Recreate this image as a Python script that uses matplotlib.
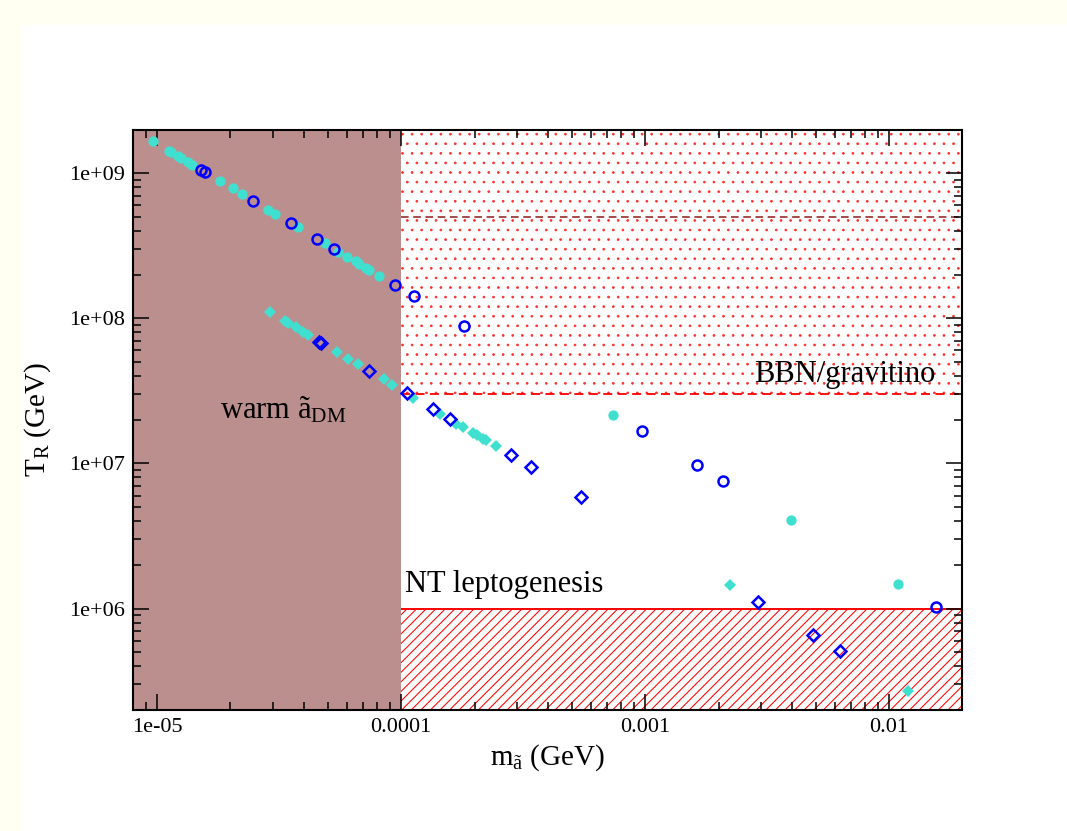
import matplotlib
matplotlib.use('Agg')
import matplotlib.pyplot as plt
from matplotlib.patches import Rectangle
from matplotlib.ticker import LogLocator, NullFormatter

# шрифты в стиле xmgrace (Times)
plt.rcParams['font.family'] = ['Liberation Serif', 'DejaVu Serif']
plt.rcParams['mathtext.fontset'] = 'custom'
plt.rcParams['mathtext.rm'] = 'Liberation Serif'
plt.rcParams['mathtext.it'] = 'Liberation Serif:italic'

# dpi подобран под плотность штриховки, k переводит "пиксели при 100 dpi" в пункты
DPI = 115
k = 100 / DPI

# данные: масса аксино (GeV) и температура перегрева T_R (GeV)
circ_fill_m = [9.6e-6, 1.12e-5, 1.14e-5, 1.22e-5, 1.25e-5, 1.34e-5, 1.39e-5,
               1.81e-5, 2.04e-5, 2.23e-5, 2.85e-5, 3.05e-5, 3.77e-5, 4.89e-5,
               5.54e-5, 5.99e-5, 6.54e-5, 6.75e-5, 7.21e-5, 7.41e-5, 8.15e-5,
               7.41e-4, 3.96e-3, 1.09e-2]
circ_fill_T = [1.66e9, 1.42e9, 1.40e9, 1.31e9, 1.28e9, 1.20e9, 1.14e9,
               8.81e8, 7.89e8, 7.17e8, 5.58e8, 5.22e8, 4.25e8, 3.28e8,
               2.86e8, 2.65e8, 2.47e8, 2.38e8, 2.22e8, 2.16e8, 1.96e8,
               2.17e7, 4.05e6, 1.48e6]

circ_open_m = [1.51e-5, 1.57e-5, 2.48e-5, 3.54e-5, 4.54e-5, 5.33e-5, 9.42e-5,
               1.135e-4, 1.81e-4, 9.68e-4, 1.63e-3, 2.09e-3, 1.56e-2]
circ_open_T = [1.05e9, 1.02e9, 6.44e8, 4.53e8, 3.53e8, 3.00e8, 1.69e8,
               1.42e8, 8.9e7, 1.66e7, 9.8e6, 7.6e6, 1.03e6]

diam_fill_m = [2.90e-5, 3.33e-5, 3.43e-5, 3.72e-5, 3.98e-5, 4.17e-5, 5.45e-5,
               6.08e-5, 6.65e-5, 8.55e-5, 9.17e-5, 1.12e-4, 1.45e-4, 1.68e-4,
               1.80e-4, 1.97e-4, 2.05e-4, 2.17e-4, 2.23e-4, 2.45e-4,
               2.22e-3, 1.19e-2]
diam_fill_T = [1.10e8, 9.57e7, 9.25e7, 8.68e7, 8.1e7, 7.68e7, 5.89e7,
               5.25e7, 4.80e7, 3.80e7, 3.49e7, 2.81e7, 2.18e7, 1.87e7,
               1.78e7, 1.63e7, 1.56e7, 1.47e7, 1.44e7, 1.31e7,
               1.45e6, 2.72e5]

diam_open_m = [4.62e-5, 4.70e-5, 7.41e-5, 1.06e-4, 1.35e-4, 1.59e-4, 2.83e-4,
               3.41e-4, 5.45e-4, 2.90e-3, 4.90e-3, 6.31e-3]
diam_open_T = [6.9e7, 6.8e7, 4.34e7, 3.03e7, 2.38e7, 2.03e7, 1.15e7,
               9.45e6, 5.89e6, 1.11e6, 6.58e5, 5.1e5]

# границы областей
m_warm = 1e-4
T_bbn = 3e7
T_bbn_high = 5e8
T_lepto = 1e6

x_ticks = [1e-5, 1e-4, 1e-3, 1e-2]
x_ticklabels = ['1e-05', '0.0001', '0.001', '0.01']
y_ticks = [1e6, 1e7, 1e8, 1e9]
y_ticklabels = ['1e+06', '1e+07', '1e+08', '1e+09']

xlim = (7.97e-6, 1.99e-2)
ylim = (2.0e5, 1.98e9)

fig = plt.figure(figsize=(1067 / DPI, 831 / DPI), dpi=DPI, facecolor='#fffff2')
fig.patches.append(Rectangle((0.02, 0.0), 0.98, 0.97, transform=fig.transFigure,
                             facecolor='white', edgecolor='none', zorder=-10))
ax = fig.add_axes([133 / 1067, 1 - 710 / 831, 829 / 1067, 580 / 831])
ax.set_xscale('log')
ax.set_yscale('log')

# области
ax.axvspan(xlim[0], m_warm, color='rosybrown', lw=0, zorder=0)
with plt.rc_context({'hatch.linewidth': 0.5 * k}):
    ax.fill_between([m_warm, xlim[1]], T_bbn, ylim[1], facecolor='none',
                    edgecolor='#ff2a2a', hatch='..', lw=0, zorder=0)
with plt.rc_context({'hatch.linewidth': 0.75 * k}):
    ax.fill_between([m_warm, xlim[1]], ylim[0], T_lepto, facecolor='none',
                    edgecolor='red', hatch='////', lw=0, zorder=0)
ax.hlines(T_bbn, m_warm, xlim[1], colors='red', linestyles=(0, (5, 3)), lw=1.3 * k, zorder=1)
ax.hlines(T_bbn_high, m_warm, xlim[1], colors='#8b1a1a', linestyles=(0, (5, 3)), lw=1.1 * k, zorder=1)
ax.hlines(T_lepto, m_warm, xlim[1], colors='red', lw=1.4 * k, zorder=1)

# точки
ax.plot(circ_fill_m, circ_fill_T, 'o', color='turquoise', ms=7.4 * k, mew=0, zorder=3)
ax.plot(diam_fill_m, diam_fill_T, 'D', color='turquoise', ms=6.4 * k, mew=0, zorder=3)
ax.plot(circ_open_m, circ_open_T, 'o', mfc='none', mec='blue', ms=7.2 * k, mew=1.8 * k, zorder=4)
ax.plot(diam_open_m, diam_open_T, 'D', mfc='none', mec='blue', ms=6.2 * k, mew=1.8 * k, zorder=4)

# подписи
ax.text(1.81e-5, 2.05e7, r'warm $\mathrm{ã}_{\mathrm{DM}}$', fontsize=22 * k)
ax.text(1.545e-2, 3.65e7, 'BBN/gravitino', fontsize=22 * k, ha='right')
ax.text(1.04e-4, 1.29e6, 'NT leptogenesis', fontsize=22 * k)

ax.set_xlim(xlim)
ax.set_ylim(ylim)
ax.set_xticks(x_ticks, x_ticklabels)
ax.set_yticks(y_ticks, y_ticklabels)
ax.xaxis.set_minor_locator(LogLocator(base=10, subs=range(2, 10), numticks=20))
ax.yaxis.set_minor_locator(LogLocator(base=10, subs=range(2, 10), numticks=20))
ax.xaxis.set_minor_formatter(NullFormatter())
ax.yaxis.set_minor_formatter(NullFormatter())
ax.tick_params(which='both', direction='in', top=True, right=True, width=1.1 * k,
               labelsize=16 * k)
ax.tick_params(which='major', length=11.5 * k)
ax.tick_params(which='minor', length=5.5 * k)
ax.tick_params(axis='x', pad=6 * k)
ax.tick_params(axis='y', pad=6 * k)
for s in ax.spines.values():
    s.set_linewidth(1.5 * k)

ax.set_xlabel(r'$\mathrm{m}_{\mathrm{ã}}$ (GeV)', fontsize=21 * k, va='center')
ax.set_ylabel(r'$\mathrm{T}_{\mathrm{R}}$ (GeV)', fontsize=21 * k, va='center')
ax.xaxis.set_label_coords(0.5, -0.083)
ax.yaxis.set_label_coords(-0.115, 0.5)

fig.savefig('out.png', dpi=DPI, facecolor=fig.get_facecolor())
